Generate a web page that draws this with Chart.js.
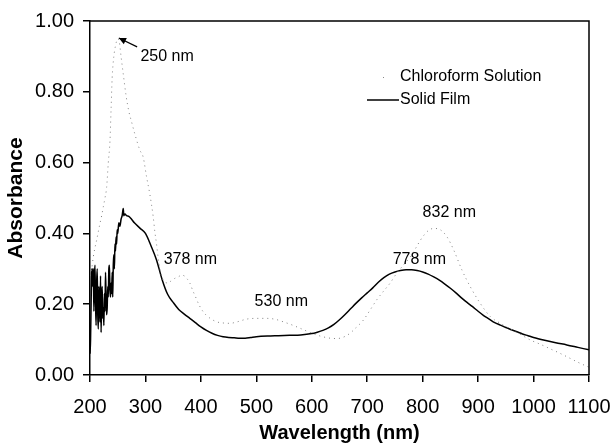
<!DOCTYPE html>
<html>
<head>
<meta charset="utf-8">
<script src="https://cdn.jsdelivr.net/npm/chart.js@4/dist/chart.umd.min.js"></script>
<style>
  html, body { margin: 0; padding: 0; background: #fff; }
  #wrap { width: 612px; height: 443px; }
</style>
</head>
<body>
<div id="wrap"><canvas id="specChart" width="612" height="443"></canvas></div>
<script>
// Solid film spectrum (nm, absorbance)
const filmWl = [200,201,202,203,204,205,206,207,208,209,210,211,212,213,214,215,216,217,218,219,
  220,221,222,223,224,225,226,227,228,229,230,231,232,233,234,235,236,237,238,239,
  240,241,242,243,244,245,246,247,248,249,250,252,254,256,258,260,261,263,266,270,275,280,
  290,300,310,320,330,340,350,360,370,380,390,400,410,420,430,440,450,460,470,480,490,500,
  520,540,560,580,600,610,620,630,640,650,660,670,680,690,700,710,720,730,740,750,760,770,
  780,790,800,810,820,830,840,850,860,870,880,890,900,910,920,930,940,950,960,970,980,990,
  1000,1020,1040,1060,1080,1100];
const filmAbs = [0.06,0.10,0.20,0.29,0.30,0.25,0.30,0.18,0.28,0.31,0.20,0.14,0.26,0.30,0.17,0.13,0.25,0.22,0.15,0.28,
  0.12,0.22,0.25,0.16,0.19,0.14,0.23,0.18,0.29,0.22,0.17,0.19,0.25,0.22,0.30,0.31,0.24,0.22,0.26,0.23,
  0.29,0.22,0.31,0.34,0.30,0.37,0.35,0.39,0.37,0.41,0.40,0.43,0.42,0.44,0.45,0.47,0.45,0.455,0.45,0.448,0.44,0.43,
  0.415,0.40,0.365,0.325,0.27,0.228,0.205,0.185,0.172,0.16,0.148,0.136,0.126,0.118,0.112,0.108,0.106,0.105,0.104,0.104,0.106,0.108,
  0.110,0.111,0.112,0.113,0.117,0.121,0.126,0.133,0.143,0.156,0.171,0.187,0.203,0.218,0.232,0.246,0.262,0.275,0.285,0.291,0.295,0.297,
  0.297,0.295,0.291,0.285,0.277,0.268,0.257,0.245,0.232,0.218,0.205,0.193,0.180,0.168,0.158,0.148,0.141,0.134,0.128,0.122,0.116,0.111,
  0.106,0.098,0.091,0.085,0.078,0.071];

// Chloroform solution spectrum
const solWl = [200,203,206,209,212,215,218,221,224,227,230,233,236,238,240,243,246,250,253,256,260,265,270,275,281,
  290,296,302,308,314,317,320,323,326,330,335,341,347,353,359,365,370,375,380,385,390,397,405,415,429,440,453,465,483,
  500,519,535,549,565,579,594,609,620,633,645,651,660,669,680,693,705,717,729,741,753,765,778,787,796,805,812,820,832,
  844,856,871,886,904,922,940,958,976,994,1012,1030,1048,1066,1084,1100];
const solAbs = [0.28,0.30,0.334,0.36,0.381,0.405,0.428,0.45,0.475,0.50,0.53,0.60,0.66,0.75,0.84,0.90,0.93,0.95,0.94,0.90,0.85,0.79,0.745,0.715,0.68,
  0.635,0.615,0.56,0.51,0.447,0.404,0.37,0.33,0.30,0.275,0.262,0.26,0.267,0.273,0.277,0.282,0.28,0.272,0.26,0.24,0.222,0.197,0.177,0.162,0.15,0.147,0.146,0.15,0.158,
  0.16,0.16,0.157,0.15,0.141,0.132,0.122,0.113,0.108,0.104,0.103,0.104,0.109,0.118,0.134,0.155,0.183,0.212,0.236,0.259,0.287,0.31,0.334,0.357,0.381,0.40,0.41,0.414,0.41,
  0.39,0.353,0.296,0.249,0.202,0.165,0.146,0.13,0.115,0.099,0.087,0.074,0.061,0.047,0.033,0.022];

const yTicks = [0, 0.2, 0.4, 0.6, 0.8, 1.0];

// peak labels, anchored in data units
const peakText = ['250 nm', '378 nm', '530 nm', '778 nm', '832 nm'];
const peakX = [339, 381, 545, 794, 848];
const peakY = [0.90, 0.327, 0.206, 0.325, 0.46];

const FONT = "'Liberation Sans', Arial, sans-serif";

function pts(xs, ys) { return xs.map((x, i) => ({ x: x, y: ys[i] })); }

// box frame, peak labels, arrow, legend
const extras = {
  id: 'extras',
  afterDatasetsDraw(chart) {
    const ctx = chart.ctx, a = chart.chartArea;
    const sx = chart.scales.x, sy = chart.scales.y;
    ctx.save();
    ctx.strokeStyle = '#000';
    ctx.lineWidth = 1.5;
    ctx.beginPath();
    ctx.moveTo(a.left, a.top); ctx.lineTo(a.right, a.top); ctx.lineTo(a.right, a.bottom);
    ctx.stroke();

    ctx.fillStyle = '#000';
    ctx.font = '16px ' + FONT;
    ctx.textAlign = 'center';
    ctx.textBaseline = 'middle';
    peakText.forEach((t, i) => ctx.fillText(t, sx.getPixelForValue(peakX[i]), sy.getPixelForValue(peakY[i])));

    // arrow to the 250 nm peak
    const x0 = sx.getPixelForValue(285), y0 = sy.getPixelForValue(0.927);
    const x1 = sx.getPixelForValue(252), y1 = sy.getPixelForValue(0.952);
    const ang = Math.atan2(y1 - y0, x1 - x0);
    ctx.lineWidth = 1.2;
    ctx.beginPath(); ctx.moveTo(x0, y0); ctx.lineTo(x1, y1); ctx.stroke();
    ctx.beginPath();
    ctx.moveTo(x1, y1);
    ctx.lineTo(x1 - 8 * Math.cos(ang - 0.45), y1 - 8 * Math.sin(ang - 0.45));
    ctx.lineTo(x1 - 8 * Math.cos(ang + 0.45), y1 - 8 * Math.sin(ang + 0.45));
    ctx.closePath(); ctx.fill();

    // legend
    ctx.textAlign = 'left';
    ctx.fillText('Chloroform Solution', 400, 77);
    ctx.fillText('Solid Film', 400, 100);
    ctx.fillStyle = '#888';
    ctx.fillRect(383, 77, 1, 1);
    ctx.strokeStyle = '#000';
    ctx.lineWidth = 1.5;
    ctx.beginPath(); ctx.moveTo(367, 100); ctx.lineTo(399, 100); ctx.stroke();
    ctx.restore();
  }
};

new Chart(document.getElementById('specChart'), {
  type: 'line',
  data: {
    datasets: [
      { label: 'Chloroform Solution', data: pts(solWl, solAbs), borderColor: '#808080',
        borderWidth: 1, borderDash: [1, 4], pointRadius: 0, cubicInterpolationMode: 'monotone' },
      { label: 'Solid Film', data: pts(filmWl, filmAbs), borderColor: '#000',
        borderWidth: 1.5, pointRadius: 0, cubicInterpolationMode: 'monotone' }
    ]
  },
  options: {
    responsive: false,
    animation: false,
    events: [],
    layout: { padding: { left: 0, top: 21, right: 23, bottom: 0 } },
    plugins: { legend: { display: false }, tooltip: { enabled: false } },
    scales: {
      x: {
        type: 'linear', min: 200, max: 1100,
        afterFit: s => { s.height = 68; s.paddingRight = 0; },
        ticks: { stepSize: 100, color: '#000', padding: 13, maxRotation: 0, callback: v => String(v),
          font: { family: FONT, size: 20 } },
        grid: { drawOnChartArea: false, tickLength: 7, color: '#000', lineWidth: 1.5 },
        border: { color: '#000', width: 1.5 },
        title: { display: true, text: 'Wavelength (nm)', color: '#000', padding: { top: 0, bottom: 0 },
          font: { family: FONT, size: 20, weight: 'bold', lineHeight: 1 } }
      },
      y: {
        min: 0, max: 1,
        afterFit: s => { s.width = 90; },
        afterBuildTicks: s => { s.ticks = yTicks.map(v => ({ value: v })); },
        ticks: { color: '#000', padding: 9, callback: v => v.toFixed(2), font: { family: FONT, size: 20 } },
        grid: { drawOnChartArea: false, tickLength: 7, color: '#000', lineWidth: 1.5 },
        border: { color: '#000', width: 1.5 },
        title: { display: true, text: 'Absorbance', color: '#000', padding: { top: 6, bottom: 0 },
          font: { family: FONT, size: 21, weight: 'bold', lineHeight: 1 } }
      }
    }
  },
  plugins: [extras]
});
</script>
</body>
</html>
